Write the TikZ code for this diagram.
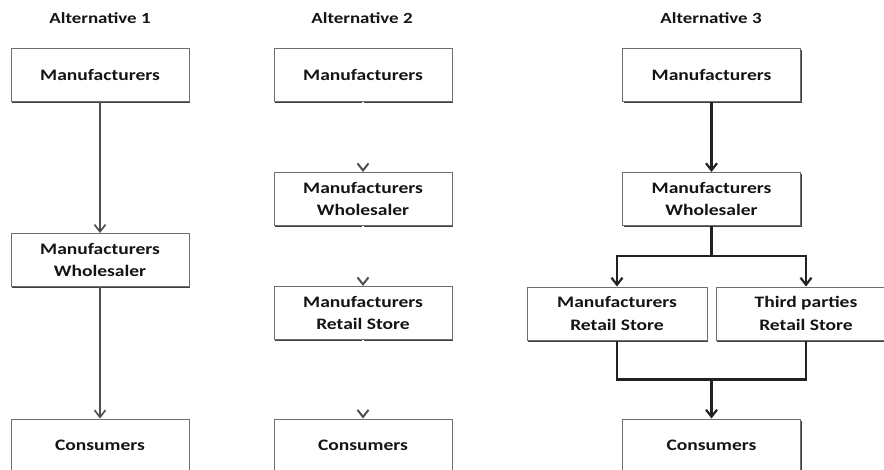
\documentclass[tikz,border=0pt]{standalone}
\usepackage{fontspec}
\setmainfont{Carlito}[FakeStretch=1.22]
\usepackage{xcolor}
\definecolor{encre}{HTML}{141414}
\definecolor{bord}{HTML}{6E6E6E}
\definecolor{ombre}{HTML}{404040}
\definecolor{trait}{HTML}{505050}
\definecolor{traitfonce}{HTML}{222222}
\usetikzlibrary{positioning,arrows.meta,calc,shadows}

\begin{document}
\begin{tikzpicture}[x=1pt,y=-1pt,
  boite/.style={draw=bord,fill=white,line width=1pt,minimum width=178pt,minimum height=53pt,
    align=center,text=encre,font=\fontsize{16}{22.5}\selectfont\bfseries,
    drop shadow={shadow xshift=1.2pt,shadow yshift=-1.5pt,fill=ombre,opacity=1}},
  titre/.style={text=encre,font=\fontsize{15.5}{22}\selectfont\bfseries},
  fleche/.style={-{Straight Barb[length=7pt,width=11pt]},trait,line width=1.7pt},
  flechefonce/.style={-{Straight Barb[length=7pt,width=11pt]},traitfonce,line width=2.2pt},
  pointe/.style={-{Straight Barb[length=7pt,width=11pt,color=trait]},white,line width=2pt}
]
\useasboundingbox (0,0) rectangle (884,469);
\clip (0,0) rectangle (884,469);

% titres
\node[titre] (t1) at (100,18) {Alternative 1};
\node[titre] (t2) at (362,18) {Alternative 2};
\node[titre] (t3) at (711,18) {Alternative 3};

% alternative 1
\node[boite] (man1) at (100,75) {Manufacturers};
\node[boite] (whs1) at (100,260) {Manufacturers\\Wholesaler};
\node[boite] (con1) at (100,445.5) {Consumers};
\draw[fleche] (man1) -- (whs1);
\draw[fleche] (whs1) -- (con1);

% alternative 2
\node[boite] (man2) at (363,75) {Manufacturers};
\node[boite] (whs2) at (363,199) {Manufacturers\\Wholesaler};
\node[boite] (ret2) at (363,313) {Manufacturers\\Retail Store};
\node[boite] (con2) at (363,445.5) {Consumers};
\draw[pointe] (man2) -- (whs2);
\draw[pointe] (whs2) -- (ret2);
\draw[pointe] (ret2) -- (con2);

% alternative 3
\node[boite] (man3) at (711.5,75) {Manufacturers};
\node[boite] (whs3) at (711.5,199) {Manufacturers\\Wholesaler};
\node[boite,minimum width=180pt] (ret3a) at (617,313.5) {Manufacturers\\Retail Store};
\node[boite,minimum width=180pt] (ret3b) at (806,313.5) {Third parties\\Retail Store};
\node[boite] (con3) at (711.5,445.5) {Consumers};
\draw[flechefonce] (man3) -- (whs3);
\draw[flechefonce] (whs3.south) -- ++(0,30) -| (ret3a.north);
\draw[flechefonce] (whs3.south) -- ++(0,30) -| (ret3b.north);
\draw[traitfonce,line width=2.2pt] (ret3a.south) -- ++(0,39) -| (ret3b.south);
\coordinate (jonction) at ($(ret3a.south)!0.5!(ret3b.south)+(0,39)$);
\draw[flechefonce] (jonction) -- (con3);
\end{tikzpicture}
\end{document}
